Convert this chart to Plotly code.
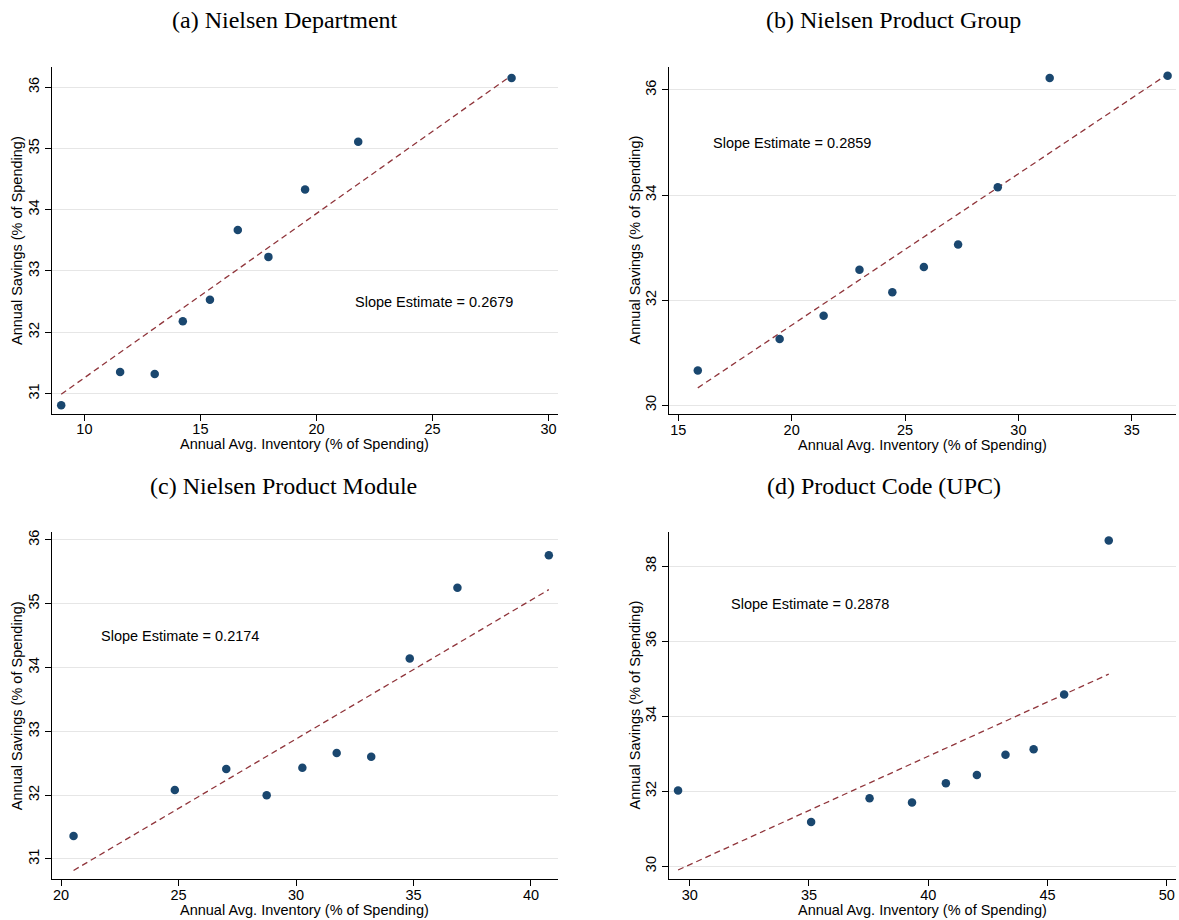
import plotly.graph_objects as go

W, H = 1179, 920

# ---------------- data ----------------
titles = ["(a) Nielsen Department", "(b) Nielsen Product Group",
          "(c) Nielsen Product Module", "(d) Product Code (UPC)"]

x_a = [9.00, 11.54, 13.03, 14.24, 15.41, 16.61, 17.93, 19.51, 21.80, 28.41]
y_a = [30.81, 31.35, 31.32, 32.18, 32.53, 33.67, 33.23, 34.33, 35.11, 36.15]
fit_x_a = [9.00, 28.41]
fit_y_a = [30.99, 36.19]

x_b = [15.86, 19.47, 21.41, 22.99, 24.44, 25.83, 27.34, 29.09, 31.38, 36.58]
y_b = [30.66, 31.26, 31.70, 32.58, 32.15, 32.63, 33.06, 34.15, 36.23, 36.27]
fit_x_b = [15.86, 36.58]
fit_y_b = [30.33, 36.30]

x_c = [20.53, 24.84, 27.03, 28.75, 30.27, 31.73, 33.20, 34.84, 36.87, 40.76]
y_c = [31.36, 32.08, 32.41, 32.00, 32.43, 32.66, 32.60, 34.14, 35.25, 35.76]
fit_x_c = [20.53, 40.76]
fit_y_c = [30.82, 35.22]

x_d = [29.51, 35.09, 37.54, 39.32, 40.74, 42.04, 43.24, 44.42, 45.70, 47.57]
y_d = [32.02, 31.18, 31.81, 31.70, 32.21, 32.43, 32.97, 33.12, 34.58, 38.68]
fit_x_d = [29.51, 47.57]
fit_y_d = [29.90, 35.12]

slope_labels = ["Slope Estimate = 0.2679", "Slope Estimate = 0.2859",
                "Slope Estimate = 0.2174", "Slope Estimate = 0.2878"]
slope_pos_x = [21.58, 16.46, 21.60, 31.66]
slope_pos_y = [32.49, 34.99, 34.50, 36.99]

x_ticks = [[10, 15, 20, 25, 30], [15, 20, 25, 30, 35],
           [20, 25, 30, 35, 40], [30, 35, 40, 45, 50]]
y_ticks = [[31, 32, 33, 34, 35, 36], [30, 32, 34, 36],
           [31, 32, 33, 34, 35, 36], [30, 32, 34, 36, 38]]
x_ranges = [[8.59, 30.41], [14.59, 36.95], [19.60, 41.15], [29.13, 50.39]]
y_ranges = [[30.67, 36.33], [29.83, 36.44], [30.68, 36.13], [29.65, 38.92]]

xs = [x_a, x_b, x_c, x_d]
ys = [y_a, y_b, y_c, y_d]
fxs = [fit_x_a, fit_x_b, fit_x_c, fit_x_d]
fys = [fit_y_a, fit_y_b, fit_y_c, fit_y_d]

x_title = "Annual Avg. Inventory (% of Spending)"
y_title = "Annual Savings (% of Spending)"

# ---------------- layout geometry (pixels) ----------------
# left, right, top, bottom of each plot area
boxes = [(51.7, 558.0, 65.0, 412.7), (669.0, 1176.0, 65.0, 413.0),
         (51.7, 558.0, 530.7, 879.3), (669.0, 1176.0, 530.7, 879.3)]
title_px = [(285, 18), (893, 18), (283, 485), (884, 485)]

def px(x):
    return x / W

def py(y):
    return 1 - y / H

NAVY = "#1a476f"
MAROON = "#90353b"
SANS = "Liberation Sans, Arial, Helvetica, sans-serif"
SERIF = "Palatino Linotype, Book Antiqua, Palatino, Liberation Serif, serif"

fig = go.Figure()
annotations = []
layout_axes = {}

for i in range(4):
    sfx = "" if i == 0 else str(i + 1)
    xa, ya = "x" + sfx, "y" + sfx
    fig.add_trace(go.Scatter(x=fxs[i], y=fys[i], mode="lines", xaxis=xa, yaxis=ya,
                             line=dict(color=MAROON, width=1.3, dash="6px,4px"),
                             showlegend=False, hoverinfo="skip"))
    fig.add_trace(go.Scatter(x=xs[i], y=ys[i], mode="markers", xaxis=xa, yaxis=ya,
                             marker=dict(color=NAVY, size=8.5, line=dict(width=0)),
                             showlegend=False))
    l, r, t, b = boxes[i]
    layout_axes["xaxis" + sfx] = dict(
        domain=[px(l), px(r)], anchor=ya, range=x_ranges[i],
        tickvals=x_ticks[i], ticks="outside", ticklen=6, tickcolor="black",
        ticklabelstandoff=-4,
        showgrid=False, zeroline=False, showline=True, linecolor="black", linewidth=1,
        tickfont=dict(family=SANS, size=14.5, color="black"))
    layout_axes["yaxis" + sfx] = dict(
        domain=[py(b), py(t)], anchor=xa, range=y_ranges[i],
        tickvals=y_ticks[i], ticks="outside", ticklen=6, tickcolor="black",
        tickangle=-90, showgrid=True, gridcolor="#e6e6e6", gridwidth=1.2,
        zeroline=False, showline=True, linecolor="black", linewidth=1,
        tickfont=dict(family=SANS, size=14.5, color="black"))
    # slope estimate text
    annotations.append(dict(x=slope_pos_x[i], y=slope_pos_y[i], xref=xa, yref=ya,
                            text=slope_labels[i], showarrow=False, xanchor="left",
                            yanchor="middle",
                            font=dict(family=SANS, size=14.5, color="black")))
    # panel titles
    tx, ty = title_px[i]
    annotations.append(dict(x=px(tx), y=py(ty), xref="paper", yref="paper",
                            text=titles[i], showarrow=False, xanchor="center",
                            yanchor="middle",
                            font=dict(family=SERIF, size=24, color="black")))
    # axis titles
    annotations.append(dict(x=px((l + r) / 2), y=py(b + 30.5), xref="paper", yref="paper",
                            text=x_title, showarrow=False, xanchor="center",
                            yanchor="middle",
                            font=dict(family=SANS, size=14.5, color="black")))
    annotations.append(dict(x=px(l - 34), y=py((t + b) / 2), xref="paper", yref="paper",
                            text=y_title, showarrow=False, xanchor="center",
                            yanchor="middle", textangle=-90,
                            font=dict(family=SANS, size=14.5, color="black")))

fig.update_layout(
    width=W, height=H, margin=dict(l=0, r=0, t=0, b=0),
    paper_bgcolor="white", plot_bgcolor="white",
    annotations=annotations, showlegend=False,
    **layout_axes)

fig.write_html("out.html", post_script="document.body.style.margin='0';")
